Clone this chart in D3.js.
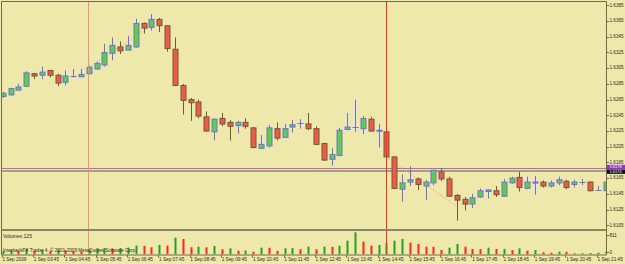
<!DOCTYPE html>
<html><head><meta charset="utf-8">
<script src="https://cdn.jsdelivr.net/npm/d3@7/dist/d3.min.js"></script>
<style>html,body{margin:0;padding:0;background:#eee8aa;overflow:hidden}</style>
</head><body>
<svg id="c" width="625" height="264"></svg>
<script>
// ---- data (GBPUSD-like M15, 1 Sep 2009) ----
const opens  = [1.6269,1.6271,1.6277,1.6282,1.6298,1.6296,1.6302,1.6296,1.6287,1.6295,1.6294,1.6298,1.6304,1.6309,1.6324,1.6332,1.6328,1.6332,1.6362,1.6357,1.6367,1.6359,1.6329,1.6283,1.6265,1.6262,1.6243,1.6224,1.6241,1.6236,1.6232,1.6236,1.6229,1.6203,1.6206,1.6228,1.6217,1.6230,1.6235,1.6234,1.6228,1.6209,1.6189,1.6194,1.6227,1.6230,1.6228,1.6240,1.6225,1.6224,1.6192,1.6151,1.6160,1.6164,1.6155,1.6159,1.6173,1.6164,1.6143,1.6138,1.6132,1.6141,1.6148,1.6149,1.6142,1.6159,1.6166,1.6152,1.6159,1.6160,1.6155,1.6159,1.6161,1.6157,1.6160,1.6160,1.6150,1.6149];
const highs  = [1.6275,1.6280,1.6285,1.6301,1.6299,1.6307,1.6303,1.6298,1.6302,1.6304,1.6304,1.6308,1.6313,1.6336,1.6344,1.6339,1.6346,1.6368,1.6363,1.6374,1.6369,1.6359,1.6344,1.6285,1.6267,1.6265,1.6250,1.6241,1.6248,1.6239,1.6238,1.6241,1.6230,1.6220,1.6233,1.6236,1.6234,1.6239,1.6240,1.6248,1.6231,1.6210,1.6203,1.6229,1.6248,1.6265,1.6244,1.6243,1.6234,1.6225,1.6193,1.6170,1.6180,1.6166,1.6163,1.6175,1.6178,1.6167,1.6145,1.6141,1.6145,1.6152,1.6151,1.6155,1.6164,1.6167,1.6173,1.6167,1.6168,1.6162,1.6162,1.6167,1.6163,1.6163,1.6164,1.6161,1.6155,1.6160];
const lows   = [1.6267,1.6270,1.6277,1.6281,1.6291,1.6291,1.6293,1.6282,1.6283,1.6293,1.6294,1.6297,1.6303,1.6307,1.6315,1.6323,1.6328,1.6331,1.6349,1.6353,1.6351,1.6326,1.6282,1.6246,1.6238,1.6241,1.6224,1.6213,1.6231,1.6213,1.6222,1.6228,1.6203,1.6202,1.6204,1.6213,1.6216,1.6223,1.6228,1.6226,1.6207,1.6187,1.6181,1.6193,1.6226,1.6224,1.6221,1.6224,1.6204,1.6185,1.6151,1.6135,1.6155,1.6150,1.6137,1.6156,1.6161,1.6141,1.6111,1.6124,1.6127,1.6140,1.6139,1.6141,1.6141,1.6158,1.6148,1.6151,1.6144,1.6153,1.6153,1.6156,1.6151,1.6153,1.6156,1.6148,1.6149,1.6148];
const closes = [1.6273,1.6279,1.6281,1.6299,1.6295,1.6300,1.6296,1.6286,1.6295,1.6295,1.6297,1.6306,1.6311,1.6325,1.6334,1.6327,1.6334,1.6362,1.6356,1.6367,1.6359,1.6330,1.6283,1.6264,1.6261,1.6244,1.6225,1.6240,1.6234,1.6231,1.6236,1.6231,1.6204,1.6208,1.6229,1.6216,1.6228,1.6233,1.6235,1.6228,1.6208,1.6188,1.6195,1.6226,1.6230,1.6230,1.6241,1.6225,1.6226,1.6192,1.6152,1.6159,1.6163,1.6157,1.6160,1.6175,1.6164,1.6142,1.6137,1.6132,1.6140,1.6149,1.6150,1.6144,1.6160,1.6165,1.6153,1.6160,1.6160,1.6155,1.6159,1.6163,1.6153,1.6160,1.6160,1.6149,1.6150,1.6160];
const volumes = [110,150,115,190,120,160,130,170,150,110,95,185,220,235,205,230,250,320,310,260,345,320,615,565,260,280,258,306,185,221,133,140,96,244,240,122,221,228,185,280,185,280,275,317,502,811,465,317,343,428,502,565,428,380,280,275,159,244,380,280,196,190,244,196,200,159,221,133,159,74,59,96,94,37,40,45,59,125];
const timeLabels = ["1 Sep 2009","1 Sep 03:45","1 Sep 04:45","1 Sep 05:45","1 Sep 06:45","1 Sep 07:45","1 Sep 08:45","1 Sep 09:45","1 Sep 10:45","1 Sep 11:45","1 Sep 12:45","1 Sep 13:45","1 Sep 14:45","1 Sep 15:45","1 Sep 16:45","1 Sep 17:45","1 Sep 18:45","1 Sep 19:45","1 Sep 20:45","1 Sep 21:45"];
const barsPerLabel = 4;
const priceTicks = [1.6385,1.6365,1.6345,1.6325,1.6305,1.6285,1.6265,1.6245,1.6225,1.6205,1.6185,1.6165,1.6145,1.6125,1.6105];
const volumeTicks = [811,0];
const askPrice = 1.6178, bidPrice = 1.6174;
const vLineBars = [11,49];
const trendLines = [
  {from:[11,1.6306], to:[20,1.6366], color:"#9c9a8c"},
  {from:[49,1.6192], to:[58,1.6129], color:"#f08a70"}
];
const copyright = "InterbankFX Trader 4, \u00a9 2001-2009 MetaQuotes Software Corp.";

// ---- layout ----
const L=1.5, R=606.5, T=1.5, MB=229, VT=231, VB=255;
const FONT = "'Liberation Sans', Arial, sans-serif";
const FS = 4.7;
const frame = "#6f6a48", txt = "#2a2a22";
const bullFill="#5fcf3a", bullLine="#6c6cf2", bearFill="#f25a44", bearLine="#6b5a3c";

const svg = d3.select("#c");
svg.append("rect").attr("width",625).attr("height",264).attr("fill","#eee8aa");

const n = opens.length;
const x = d3.scaleLinear().domain([0,n-1]).range([2.7,605.6]);
const y = d3.scaleLinear().domain([1.6105,1.6385]).range([225.3,5.3]);
const yv = d3.scaleLinear().domain([0,d3.max(volumes)]).range([254.3,232.3]);
const px = v => Math.round(v)+0.5;

const defs = svg.append("defs");
defs.append("clipPath").attr("id","cm").append("rect").attr("x",L+0.5).attr("y",T+0.5).attr("width",R-L-1).attr("height",MB-T-0.5);
defs.append("clipPath").attr("id","cv").append("rect").attr("x",L+0.5).attr("y",VT+0.5).attr("width",R-L-1).attr("height",VB-VT-1);

const main = svg.append("g").attr("clip-path","url(#cm)");
const vol = svg.append("g").attr("clip-path","url(#cv)");

// vertical lines (objects)
const vcols = ["#f4907a","#ff2a1a"];
vLineBars.forEach((b,i)=>{
  const vx = Math.floor(x(b))+0.5;
  svg.append("line").attr("x1",vx).attr("x2",vx).attr("y1",T).attr("y2",VB)
    .attr("stroke",vcols[i]).attr("stroke-width",1);
});

// horizontal price lines
main.append("line").attr("x1",L).attr("x2",R).attr("y1",y(bidPrice)).attr("y2",y(bidPrice))
  .attr("stroke","#a6a07c").attr("stroke-width",2);
main.append("line").attr("x1",L).attr("x2",R).attr("y1",px(y(askPrice))).attr("y2",px(y(askPrice)))
  .attr("stroke","#c25fcf").attr("stroke-width",1);

// dotted trend lines
trendLines.forEach(t=>{
  main.append("line").attr("x1",x(t.from[0])).attr("y1",y(t.from[1])).attr("x2",x(t.to[0])).attr("y2",y(t.to[1]))
    .attr("stroke",t.color).attr("stroke-width",1).attr("stroke-dasharray","1,2");
});

// candles
const idx = d3.range(n);
const cg = main.selectAll("g.c").data(idx).join("g");
cg.append("line")
  .attr("x1",i=>px(x(i))).attr("x2",i=>px(x(i)))
  .attr("y1",i=>y(highs[i])).attr("y2",i=>y(lows[i]))
  .attr("stroke",i=>closes[i]>=opens[i]?bullLine:bearLine).attr("stroke-width",1);
cg.filter(i=>Math.abs(closes[i]-opens[i])>0.00005).append("rect")
  .attr("x",i=>px(x(i))-2.5).attr("width",5)
  .attr("y",i=>y(Math.max(opens[i],closes[i])))
  .attr("height",i=>Math.max(1,Math.abs(y(opens[i])-y(closes[i]))))
  .attr("fill",i=>closes[i]>=opens[i]?bullFill:bearFill)
  .attr("stroke",i=>closes[i]>=opens[i]?bullLine:bearLine).attr("stroke-width",1);
cg.filter(i=>Math.abs(closes[i]-opens[i])<=0.00005).append("line")
  .attr("x1",i=>px(x(i))-3).attr("x2",i=>px(x(i))+3)
  .attr("y1",i=>px(y(opens[i]))).attr("y2",i=>px(y(opens[i])))
  .attr("stroke",bullLine).attr("stroke-width",1);

// volume bars
vol.selectAll("rect.v").data(idx).join("rect")
  .attr("x",i=>Math.round(x(i))-0.5).attr("width",2)
  .attr("y",i=>yv(volumes[i])).attr("height",i=>yv(0)-yv(volumes[i]))
  .attr("fill",i=>(i===0||volumes[i]>volumes[i-1])?"#24a024":"#ff2424");

// frame
const fr = svg.append("g").attr("stroke",frame).attr("stroke-width",1).attr("fill","none");
fr.append("line").attr("x1",L).attr("x2",R).attr("y1",T).attr("y2",T);
fr.append("line").attr("x1",L).attr("x2",L).attr("y1",T).attr("y2",VB);
fr.append("line").attr("x1",R).attr("x2",R).attr("y1",T).attr("y2",VB);
fr.append("line").attr("x1",L).attr("x2",R).attr("y1",VB).attr("y2",VB);
svg.append("line").attr("x1",L).attr("x2",R).attr("y1",230).attr("y2",230).attr("stroke","#8a8562").attr("stroke-width",2);

// price axis
const pa = svg.append("g");
priceTicks.forEach(p=>{
  pa.append("line").attr("x1",R).attr("x2",R+2.5).attr("y1",px(y(p))).attr("y2",px(y(p))).attr("stroke",frame);
  pa.append("text").attr("x",609.5).attr("y",y(p)+1.3).text(p.toFixed(4))
    .attr("font-family",FONT).attr("font-size",4.6).attr("fill",txt);
});
// price boxes (ask box stacked just above bid box)
[[askPrice,"#9b2fd6",-0.9],[bidPrice,"#111111",0.6]].forEach(([p,c,off])=>{
  const cy = y(p)+off;
  pa.append("rect").attr("x",R+0.5).attr("y",cy-2.2).attr("width",18).attr("height",4.4).attr("fill",c);
  pa.append("text").attr("x",609.5).attr("y",cy+1.45).text(p.toFixed(4))
    .attr("font-family",FONT).attr("font-size",4).attr("fill","#ffffff");
});
// volume axis
volumeTicks.forEach(v=>{
  const yy = v===0 ? yv(0)-2 : yv(v)+2.7;
  pa.append("line").attr("x1",R).attr("x2",R+2.5).attr("y1",px(yy)).attr("y2",px(yy)).attr("stroke",frame);
  pa.append("text").attr("x",609.5).attr("y",yy+1.7).text(v)
    .attr("font-family",FONT).attr("font-size",FS).attr("fill",txt);
});

// time axis
timeLabels.forEach((t,k)=>{
  const xx = x(k*barsPerLabel);
  svg.append("line").attr("x1",px(xx)-1).attr("x2",px(xx)-1).attr("y1",VB).attr("y2",VB+2.5).attr("stroke",frame);
  svg.append("text").attr("x",xx-0.3).attr("y",261).text(t)
    .attr("font-family",FONT).attr("font-size",FS).attr("fill",txt);
});

// panel texts
svg.append("text").attr("x",3).attr("y",238).text("Volumes "+volumes[n-1])
  .attr("font-family",FONT).attr("font-size",FS+0.3).attr("fill",txt);
svg.append("text").attr("x",3).attr("y",252).text(copyright)
  .attr("font-family",FONT).attr("font-size",FS).attr("fill",txt);
</script>
</body></html>
